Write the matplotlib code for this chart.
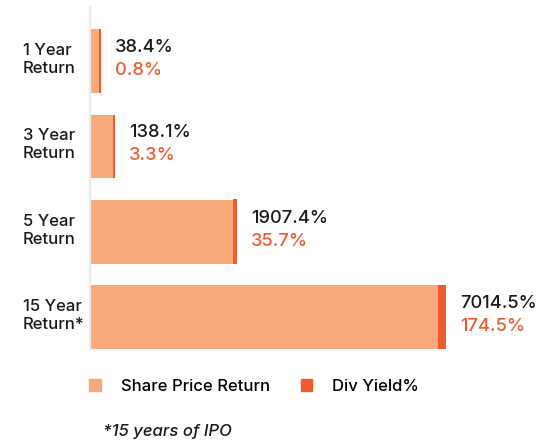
import numpy as np
import matplotlib
matplotlib.use('Agg')
import matplotlib.pyplot as plt
import matplotlib.transforms as mtransforms
from matplotlib.patches import Patch

categories = ['1 Year\nReturn', '3 Year\nReturn', '5 Year\nReturn', '15 Year\nReturn*']
share_price = [38.4, 138.1, 1907.4, 7014.5]
div_yield = [0.8, 3.3, 35.7, 174.5]
legend_labels = ['Share Price Return', 'Div Yield%']
footnote = '*15 years of IPO'

LIGHT = '#F9AA7C'
DARK = '#EE5B2E'
INK = '#1A1A1A'

plt.rcParams['font.family'] = ['Inter', 'DejaVu Sans']

fig = plt.figure(figsize=(5.42, 4.40), dpi=100)
ax = fig.add_axes([89.5 / 542, 1 - 349 / 440, (488 - 89.5) / 542, 342 / 440])

# the bars in the original are not linear, a power scale is close enough
p = 0.68
ax.set_xscale('function', functions=(lambda x: np.sign(x) * np.abs(x) ** p,
                                     lambda x: np.sign(x) * np.abs(x) ** (1 / p)))

y = np.arange(len(categories))
totals = np.array(share_price) + np.array(div_yield)
ax.barh(y, share_price, height=0.745, color=LIGHT)
ax.barh(y, div_yield, left=share_price, height=0.74, color=DARK,
        edgecolor=DARK, linewidth=1.4)

ax.set_xlim(0, 8500)
ax.set_ylim(3.372, -0.633)
for s in ['top', 'right', 'bottom']:
    ax.spines[s].set_visible(False)
ax.spines['left'].set_color('#EBEBEB')
ax.spines['left'].set_linewidth(1.6)
ax.set_xticks([])
ax.set_yticks([])

# category labels, left aligned near the figure edge
trans = mtransforms.blended_transform_factory(fig.transFigure, ax.transData)
for i, cat in enumerate(categories):
    ax.text(23 / 542, i - 0.02, cat, transform=trans, ha='left', va='center',
            fontsize=12, fontweight='medium', color=INK, linespacing=1.25)

# value labels
for i in range(len(categories)):
    ax.annotate(f'{share_price[i]}%', xy=(totals[i], i), xytext=(11, 6.5),
                textcoords='offset points', ha='left', va='baseline',
                fontsize=13.2, fontweight='medium', color=INK)
    ax.annotate(f'{div_yield[i]}%', xy=(totals[i], i), xytext=(11, -10),
                textcoords='offset points', ha='left', va='baseline',
                fontsize=13.2, fontweight='medium', color=DARK)

handles = [Patch(color=LIGHT, label=legend_labels[0]),
           Patch(color=DARK, label=legend_labels[1])]
fig.legend(handles=handles, loc='center left', bbox_to_anchor=(89 / 542, 1 - 386 / 440),
           ncol=2, frameon=False,
           prop={'weight': 'medium', 'size': 12}, handlelength=0.7, handleheight=0.7,
           handletextpad=1.2, columnspacing=1.85, borderpad=0, borderaxespad=0)

fig.text(103 / 542, 1 - 431 / 440, footnote, style='italic', va='center',
         fontsize=12, fontweight='medium', color=INK)

fig.savefig('out.png', dpi=100)
